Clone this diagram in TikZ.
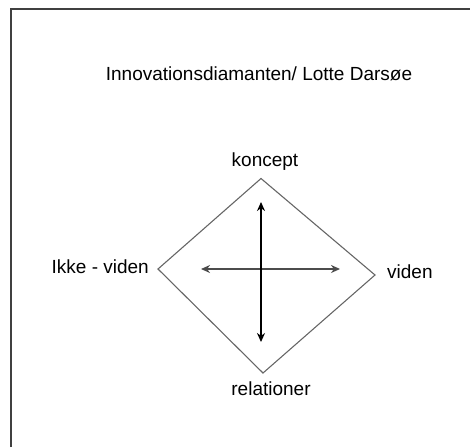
\documentclass[tikz,border=0pt]{standalone}
\usepackage{fontspec}
\setmainfont{Liberation Sans}
\usetikzlibrary{arrows.meta}
\begin{document}
\begin{tikzpicture}[x=1pt,y=-1pt,
  lbl/.style={inner sep=0pt,font=\fontsize{19}{23}\selectfont},
  frameline/.style={draw=black!75,line width=2pt},
  diamondline/.style={draw=black!60,line width=1.1pt,line join=miter},
  arr/.style={{Stealth[length=9pt,width=8pt]}-{Stealth[length=9pt,width=8pt]},line width=1.6pt}]
\useasboundingbox (0,0) rectangle (470,447);
% frame
\coordinate (fbl) at (11,447);
\coordinate (ftl) at (11,8.5);
\coordinate (ftr) at (470,8.5);
\draw[frameline] (fbl) -- (ftl) -- (ftr);
% title
\node[lbl,anchor=base] (title) at (259,80) {Innovationsdiamanten/ Lotte Darsøe};
% diamond
\coordinate (dt) at (261,178.5);
\coordinate (dl) at (158,269);
\coordinate (dr) at (375,275);
\coordinate (db) at (263,373);
\draw[diamondline] (dt) -- (dr) -- (db) -- (dl) -- cycle;
% arrows
\coordinate (vt) at (261,202);
\coordinate (vb) at (261,342);
\coordinate (hl) at (201,269);
\coordinate (hr) at (340,269);
\draw[arr,black!70,line width=2pt] (hl) -- (hr);
\draw[arr,black] (vt) -- (vb);
% labels
\node[lbl,anchor=base] (kon) at (265,166) {koncept};
\node[lbl,anchor=base] (rel) at (271,395) {relationer};
\node[lbl,anchor=base east] (ikke) at (149,273) {Ikke - viden};
\node[lbl,anchor=base west] (vid) at (387,278) {viden};
\end{tikzpicture}
\end{document}
